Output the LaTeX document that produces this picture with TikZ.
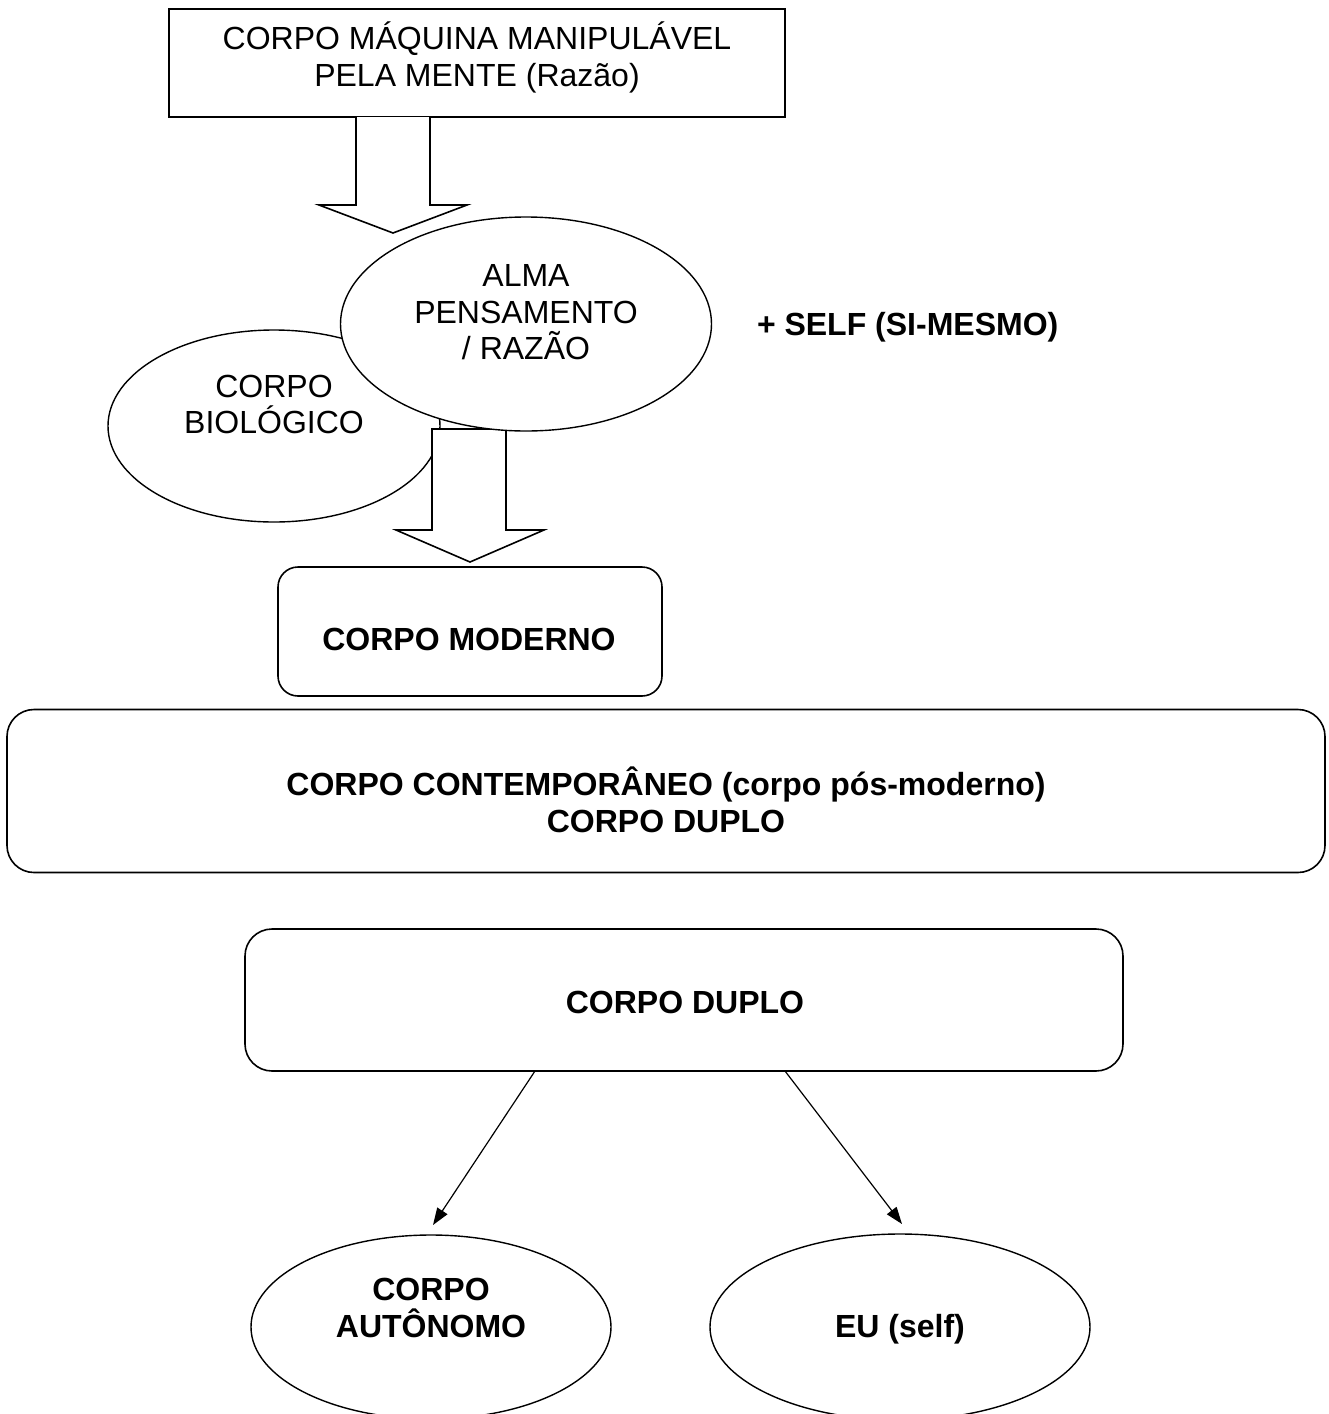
\documentclass[tikz,border=0pt]{standalone}
\usepackage{fontspec}
\setmainfont{Liberation Sans}
\usetikzlibrary{shapes.geometric,arrows.meta,calc}
\begin{document}
\begin{tikzpicture}[x=1pt,y=-1pt,
  every node/.style={inner sep=0pt, outer sep=0pt},
  lbl/.style={anchor=base, font=\fontsize{32}{37}\selectfont},
  blbl/.style={anchor=base, font=\fontsize{32}{37}\selectfont\bfseries},
  boxshape/.style={draw, line width=1.6pt, fill=white, rectangle},
  rbox/.style={boxshape, rounded corners=#1},
  oval/.style={draw, line width=1.4pt, fill=white, ellipse},
  blockarrow/.style={fill=white, draw, line width=1.6pt, line join=miter},
  thinarrow/.style={line width=1.2pt, -{Triangle[length=17pt,width=12pt]}}
]
\path[use as bounding box] (0,0) rectangle (1329,1414);
\clip (0,0) rectangle (1329,1414);

% top box
\node[boxshape, minimum width=616pt, minimum height=108pt] (maq) at (477,63) {};
\node[lbl] (maq1) at (477,49) {CORPO MÁQUINA MANIPULÁVEL};
\node[lbl] (maq2) at (477,86) {PELA MENTE (Razão)};

% block arrow 1
\coordinate (a1) at ($(maq.south)+(-84,0)$);
\draw[blockarrow] ($(a1)+(-37,0)$) -- ($(a1)+(-37,88)$) -- ($(a1)+(-74,88)$) -- ($(a1)+(0,116)$)
  -- ($(a1)+(74,88)$) -- ($(a1)+(37,88)$) -- ($(a1)+(37,0)$);

% corpo biologico
\node[oval, minimum width=332pt, minimum height=192pt] (bio) at (274,426) {};
\node[lbl] (bio1) at (274,397) {CORPO};
\node[lbl] (bio2) at (274,433) {BIOLÓGICO};

% block arrow 2
\coordinate (a2) at (469,429);
\draw[blockarrow] ($(a2)+(-37,0)$) -- ($(a2)+(-37,101)$) -- ($(a2)+(-73,101)$) -- ($(a2)+(1,133)$)
  -- ($(a2)+(75,101)$) -- ($(a2)+(37,101)$) -- ($(a2)+(37,0)$) -- cycle;

% alma
\node[oval, minimum width=371pt, minimum height=214pt] (alma) at (526,324) {};
\node[lbl] (alma1) at (526,286) {ALMA};
\node[lbl] (alma2) at (526,323) {PENSAMENTO};
\node[lbl] (alma3) at (526,359) {/ RAZÃO};

\node[blbl, anchor=base west] (self) at (757,335) {+ SELF (SI-MESMO)};

% corpo moderno
\node[rbox=20pt, minimum width=384pt, minimum height=129pt] (moderno) at (470,631.5) {};
\node[blbl] (moderno1) at (469,650) {CORPO MODERNO};

% contemporaneo
\node[rbox=27pt, minimum width=1318pt, minimum height=163pt] (contemp) at (666,791) {};
\node[blbl] (contemp1) at (666,795) {CORPO CONTEMPORÂNEO (corpo pós-moderno)};
\node[blbl] (contemp2) at (666,832) {CORPO DUPLO};

% corpo duplo
\node[rbox=27pt, minimum width=878pt, minimum height=142pt] (duplo) at (684,1000) {};
\node[blbl] (duplo1) at (685,1013) {CORPO DUPLO};

% bottom ellipses
\node[oval, minimum width=360pt, minimum height=184pt] (auto) at (431,1327) {};
\node[blbl] (auto1) at (431,1300) {CORPO};
\node[blbl] (auto2) at (431,1337) {AUTÔNOMO};
\node[oval, minimum width=380pt, minimum height=186pt] (eu) at (900,1327) {};
\node[blbl] (eu1) at (900,1337) {EU (self)};

\draw[thinarrow] ($(duplo.south)+(-149,0)$) -- ($(auto.north)+(2,-10)$);
\draw[thinarrow] ($(duplo.south)+(101,0)$) -- ($(eu.north)+(2,-10)$);
\end{tikzpicture}
\end{document}
